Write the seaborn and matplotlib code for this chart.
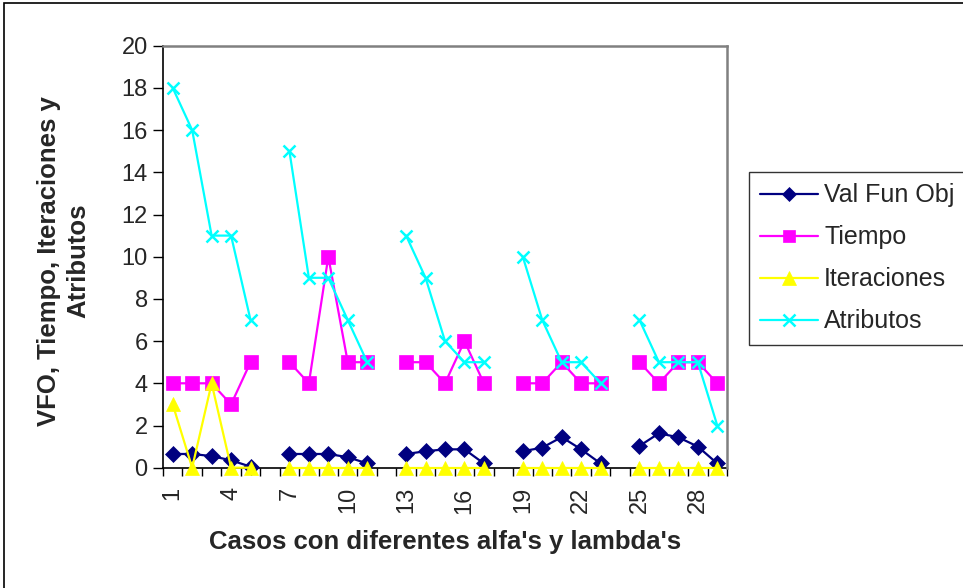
import matplotlib
matplotlib.use("Agg")
import matplotlib.pyplot as plt
import numpy as np
import pandas as pd
import seaborn as sns
from matplotlib.lines import Line2D
from matplotlib.patches import Rectangle

# casos 1..29, con huecos en 6, 12, 18 y 24
casos = [1, 2, 3, 4, 5, 7, 8, 9, 10, 11, 13, 14, 15, 16, 17,
         19, 20, 21, 22, 23, 25, 26, 27, 28, 29]
grupos = [1] * 5 + [2] * 5 + [3] * 5 + [4] * 5 + [5] * 5

val_fun_obj = [0.65, 0.65, 0.55, 0.35, 0.05,
               0.65, 0.65, 0.65, 0.5, 0.2,
               0.65, 0.78, 0.87, 0.87, 0.2,
               0.78, 0.95, 1.45, 0.87, 0.2,
               1.03, 1.63, 1.44, 1.0, 0.2]
tiempo = [4, 4, 4, 3, 5,
          5, 4, 10, 5, 5,
          5, 5, 4, 6, 4,
          4, 4, 5, 4, 4,
          5, 4, 5, 5, 4]
iteraciones = [3, 0, 4, 0, 0,
               0, 0, 0, 0, 0,
               0, 0, 0, 0, 0,
               0, 0, 0, 0, 0,
               0, 0, 0, 0, 0]
atributos = [18, 16, 11, 11, 7,
             15, 9, 9, 7, 5,
             11, 9, 6, 5, 5,
             10, 7, 5, 5, 4,
             7, 5, 5, 5, 2]

series = {
    "Val Fun Obj": val_fun_obj,
    "Tiempo": tiempo,
    "Iteraciones": iteraciones,
    "Atributos": atributos,
}
estilos = {
    "Val Fun Obj": dict(color="#000080", marker="D", markersize=8.5),
    "Tiempo": dict(color="#FF00FF", marker="s", markersize=10),
    "Iteraciones": dict(color="#FFFF00", marker="^", markersize=10.5),
    "Atributos": dict(color="#00FFFF", marker="x", markersize=9),
}

filas = []
for nombre, valores in series.items():
    for c, g, v in zip(casos, grupos, valores):
        filas.append({"caso": c, "grupo": g, "serie": nombre, "valor": v})
df = pd.DataFrame(filas)

sns.set_theme(style="white")
plt.rcParams["font.family"] = ["Liberation Sans", "DejaVu Sans"]

fig = plt.figure(figsize=(9.63, 5.88), dpi=100)
ax = fig.add_axes([163 / 963, 120.3 / 588, 564 / 963, 422 / 588])

for nombre in series:
    st = estilos[nombre]
    mew = 1.8 if st["marker"] == "x" else 0.5
    sns.lineplot(data=df[df["serie"] == nombre], x="caso", y="valor",
                 units="grupo", estimator=None, ax=ax, legend=False,
                 color=st["color"], marker=st["marker"],
                 markersize=st["markersize"], markeredgecolor=st["color"],
                 markeredgewidth=mew, linewidth=1.6, clip_on=False)

ax.set_xlim(0.5, 29.5)
ax.set_ylim(0, 20)
ax.set_yticks(np.arange(0, 21, 2))
ax.set_xticks(np.arange(1, 30, 3))
ax.set_xticklabels([str(v) for v in range(1, 30, 3)], rotation=90)
ax.set_xticks(np.arange(0.5, 30, 1), minor=True)
ax.tick_params(axis="x", which="major", length=0, labelsize=17, pad=14)
ax.tick_params(axis="x", which="minor", length=6, width=1, color="black",
               direction="out", bottom=True)
ax.tick_params(axis="y", length=7, width=1, color="black", direction="out",
               left=True, labelsize=17, pad=4)
ax.grid(False)

for lado in ["left", "bottom"]:
    ax.spines[lado].set_color("black")
    ax.spines[lado].set_linewidth(1.2)
    ax.spines[lado].set_zorder(0.5)
for lado in ["top", "right"]:
    ax.spines[lado].set_color("#808080")
    ax.spines[lado].set_linewidth(1.8)

ax.set_xlabel("Casos con diferentes alfa's y lambda's", fontsize=18.5,
              fontweight="bold")
ax.xaxis.set_label_coords(0.5, -0.148)
ax.set_ylabel("VFO, Tiempo, Iteraciones y\nAtributos", fontsize=18.5,
              fontweight="bold", linespacing=1.25)
ax.yaxis.set_label_coords(-0.129, 0.49)

handles = []
for nombre in series:
    st = estilos[nombre]
    mew = 1.8 if st["marker"] == "x" else 0.5
    handles.append(Line2D([], [], color=st["color"], marker=st["marker"],
                          markersize=st["markersize"] - 1,
                          markeredgecolor=st["color"], markeredgewidth=mew,
                          linewidth=1.6, label=nombre))
leg = fig.legend(handles=handles, loc="upper left",
                 bbox_to_anchor=(749 / 963, 1 - 172 / 588),
                 fontsize=18, frameon=True, fancybox=False,
                 edgecolor="black", handlelength=2.3, handletextpad=0.25,
                 labelspacing=0.72, borderpad=0.45, borderaxespad=0)
leg.get_frame().set_linewidth(1.0)

# borde exterior del grafico
fig.patches.append(Rectangle((4 / 963, -0.1), 1.2, 1.1 - 3 / 588,
                             transform=fig.transFigure, fill=False,
                             edgecolor="black", linewidth=1.2))

fig.savefig("out.png", dpi=100)
